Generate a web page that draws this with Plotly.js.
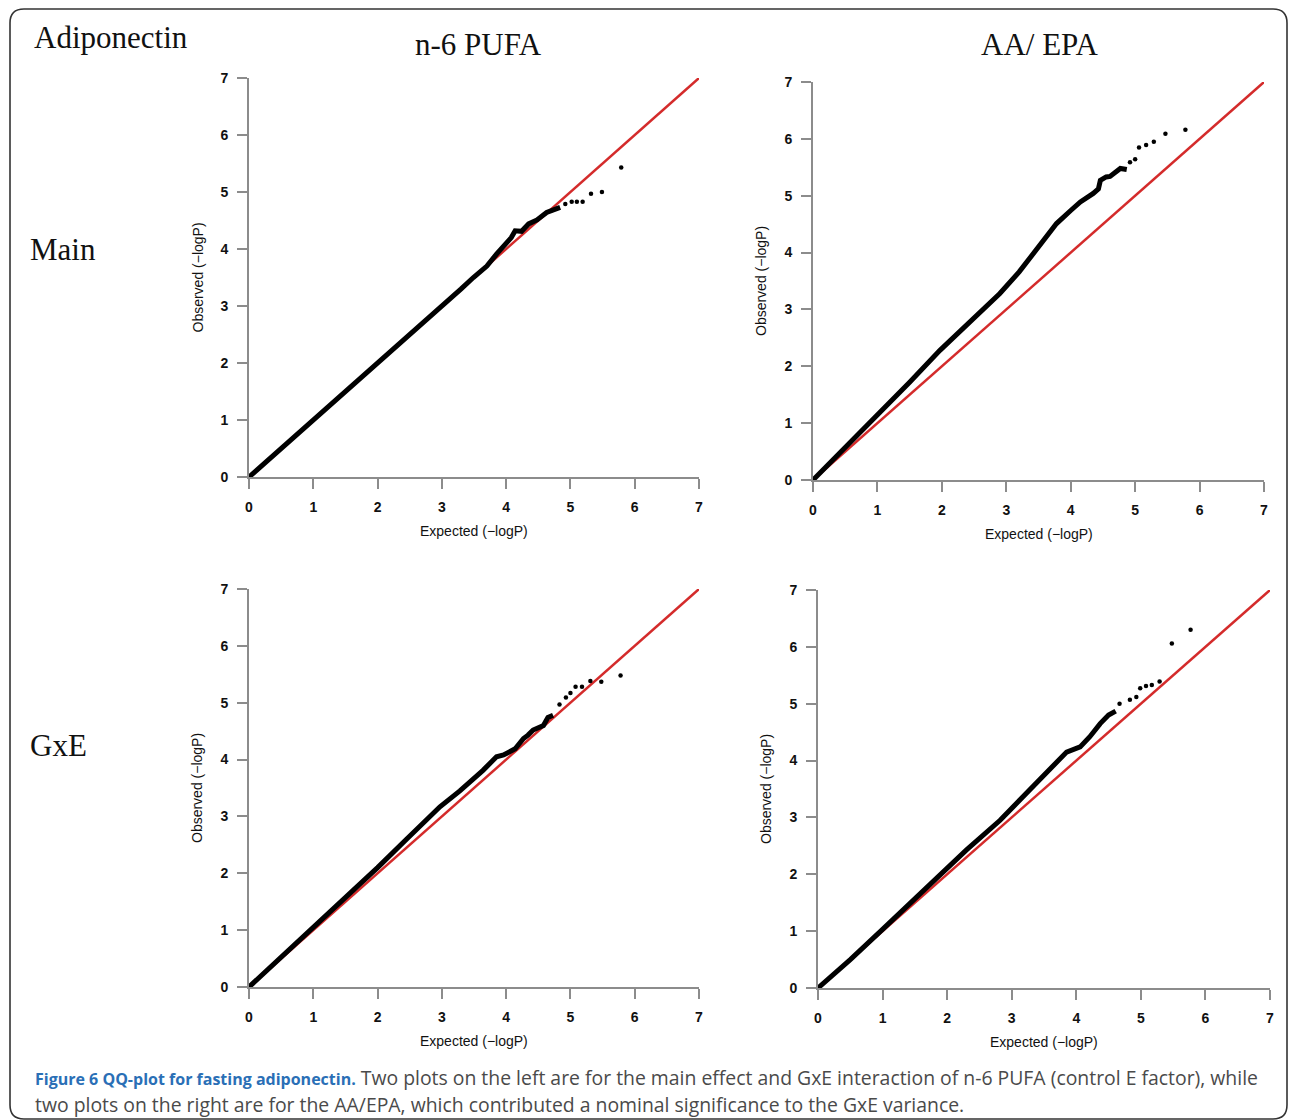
<!DOCTYPE html>
<html>
<head>
<meta charset="utf-8">
<script src="https://cdn.plot.ly/plotly-3.0.1.min.js"></script>
<style>html,body{margin:0;padding:0;background:#fff;}#chart{width:1290px;height:1120px;}</style>
</head>
<body>
<div id="chart"></div>
<script>
// ---------- data ----------
const axisTicks = [0, 1, 2, 3, 4, 5, 6, 7];
const refLine = [0, 7];

// Main effect, n-6 PUFA
const mainPufaExp = [0, 0.5, 1, 1.5, 2, 2.5, 2.8, 3.1, 3.3, 3.49, 3.70, 3.85, 4.08, 4.14, 4.24, 4.35, 4.48, 4.63, 4.79, 4.84];
const mainPufaObs = [0, 0.5, 1, 1.5, 2, 2.5, 2.78, 3.08, 3.3, 3.50, 3.70, 3.91, 4.20, 4.32, 4.31, 4.44, 4.51, 4.64, 4.70, 4.73];
const mainPufaTailExp = [4.92, 5.02, 5.10, 5.19, 5.32, 5.49, 5.79];
const mainPufaTailObs = [4.79, 4.83, 4.83, 4.83, 4.97, 5.00, 5.43];

// Main effect, AA/EPA
const mainAaExp = [0, 0.5, 1, 1.5, 1.97, 2.5, 2.9, 3.2, 3.42, 3.6, 3.78, 4.0, 4.15, 4.35, 4.43, 4.46, 4.55, 4.61, 4.70, 4.77, 4.87];
const mainAaObs = [0, 0.57, 1.14, 1.72, 2.28, 2.86, 3.28, 3.66, 3.98, 4.25, 4.51, 4.74, 4.89, 5.04, 5.12, 5.27, 5.33, 5.34, 5.42, 5.48, 5.46];
const mainAaTailExp = [4.92, 5.00, 5.06, 5.17, 5.29, 5.47, 5.78];
const mainAaTailObs = [5.59, 5.64, 5.85, 5.89, 5.95, 6.09, 6.16];

// GxE, n-6 PUFA
const gxePufaExp = [0, 0.5, 1, 1.5, 2, 2.45, 2.66, 2.97, 3.28, 3.44, 3.64, 3.85, 3.96, 4.14, 4.27, 4.34, 4.42, 4.58, 4.65, 4.73];
const gxePufaObs = [0, 0.52, 1.05, 1.58, 2.1, 2.6, 2.84, 3.17, 3.45, 3.61, 3.81, 4.05, 4.08, 4.19, 4.37, 4.43, 4.52, 4.60, 4.74, 4.78];
const gxePufaTailExp = [4.83, 4.93, 5.00, 5.08, 5.18, 5.31, 5.48, 5.78];
const gxePufaTailObs = [4.97, 5.09, 5.17, 5.28, 5.28, 5.38, 5.37, 5.48];

// GxE, AA/EPA
const gxeAaExp = [0, 0.5, 1, 1.5, 2, 2.30, 2.82, 3.33, 3.59, 3.85, 4.06, 4.21, 4.37, 4.50, 4.61];
const gxeAaObs = [0, 0.5, 1.03, 1.56, 2.1, 2.43, 2.95, 3.54, 3.83, 4.15, 4.24, 4.42, 4.65, 4.80, 4.87];
const gxeAaTailExp = [4.67, 4.83, 4.93, 4.99, 5.08, 5.17, 5.29, 5.48, 5.77];
const gxeAaTailObs = [5.00, 5.07, 5.12, 5.27, 5.31, 5.33, 5.39, 6.06, 6.30];

const colTitles = ['n-6 PUFA', 'AA/ EPA'];
const rowTitles = ['Main', 'GxE'];
const figTitle = 'Adiponectin';
const xTitle = 'Expected (\u2212logP)';
const yTitle = 'Observed (\u2212logP)';
const captionBold = 'Figure 6 QQ-plot for fasting adiponectin.';
const captionLine1 = ' Two plots on the left are for the main effect and GxE interaction of n-6 PUFA (control E factor), while';
const captionLine2 = 'two plots on the right are for the AA/EPA, which contributed a nominal significance to the GxE variance.';

// ---------- layout helpers ----------
const W = 1290, H = 1120;
const px = v => v / W;
const py = v => 1 - v / H;

const panels = [
  {exp: mainPufaExp, obs: mainPufaObs, tx: mainPufaTailExp, ty: mainPufaTailObs, box: [249, 699, 78, 477]},
  {exp: mainAaExp, obs: mainAaObs, tx: mainAaTailExp, ty: mainAaTailObs, box: [813, 1264, 82, 480]},
  {exp: gxePufaExp, obs: gxePufaObs, tx: gxePufaTailExp, ty: gxePufaTailObs, box: [249, 699, 589, 987]},
  {exp: gxeAaExp, obs: gxeAaObs, tx: gxeAaTailExp, ty: gxeAaTailObs, box: [818, 1270, 590, 988]}
];

const traces = [];
const layout = {
  width: W, height: H,
  margin: {l: 0, r: 0, t: 0, b: 0},
  paper_bgcolor: '#fff', plot_bgcolor: 'rgba(0,0,0,0)',
  showlegend: false,
  annotations: [],
  shapes: []
};

const tickFont = {family: 'Liberation Sans, Arial, sans-serif', size: 14, color: '#111', weight: 'bold'};
const axTitleFont = {family: 'Liberation Sans, Arial, sans-serif', size: 14, color: '#111'};

panels.forEach((p, i) => {
  const n = i + 1;
  const xa = n === 1 ? 'x' : 'x' + n;
  const ya = n === 1 ? 'y' : 'y' + n;
  const xk = n === 1 ? 'xaxis' : 'xaxis' + n;
  const yk = n === 1 ? 'yaxis' : 'yaxis' + n;
  const [x0, x1, yTop, yBot] = p.box;
  const common = {
    range: [0, 7], tickmode: 'array', tickvals: axisTicks, ticktext: axisTicks.map(String),
    showline: true, linecolor: '#8c8c8c', linewidth: 2,
    ticks: 'outside', ticklen: 10, tickwidth: 2, tickcolor: '#8c8c8c',
    showgrid: false, zeroline: false, tickfont: tickFont, fixedrange: true,
    ticklabelstandoff: 6
  };
  layout[xk] = Object.assign({}, common, {domain: [px(x0), px(x1)], anchor: ya});
  layout[yk] = Object.assign({}, common, {domain: [py(yBot), py(yTop)], anchor: xa});

  traces.push({x: refLine, y: refLine, xaxis: xa, yaxis: ya, mode: 'lines',
    line: {color: '#d42b2b', width: 2.5}, hoverinfo: 'skip'});
  traces.push({x: p.exp, y: p.obs, xaxis: xa, yaxis: ya, mode: 'lines',
    line: {color: '#000', width: 5}, hoverinfo: 'skip'});
  traces.push({x: p.tx, y: p.ty, xaxis: xa, yaxis: ya, mode: 'markers',
    marker: {color: '#000', size: 4.5}, cliponaxis: false, hoverinfo: 'skip'});

  // axis titles
  layout.annotations.push({xref: 'paper', yref: 'paper', x: px((x0 + x1) / 2), y: py(yBot + 54),
    text: xTitle, showarrow: false, font: axTitleFont, xanchor: 'center', yanchor: 'middle'});
  layout.annotations.push({xref: 'paper', yref: 'paper', x: px(x0 - 52), y: py((yTop + yBot) / 2),
    text: yTitle, showarrow: false, font: axTitleFont, textangle: -90, xanchor: 'center', yanchor: 'middle'});
});

const serif = {family: 'Liberation Serif, Times New Roman, serif', size: 31, color: '#111'};
layout.annotations.push({xref: 'paper', yref: 'paper', x: px(32), y: py(38), text: figTitle,
  showarrow: false, font: serif, xanchor: 'left', yanchor: 'middle'});
layout.annotations.push({xref: 'paper', yref: 'paper', x: px(478), y: py(45), text: colTitles[0],
  showarrow: false, font: serif, xanchor: 'center', yanchor: 'middle'});
layout.annotations.push({xref: 'paper', yref: 'paper', x: px(1039), y: py(45), text: colTitles[1],
  showarrow: false, font: serif, xanchor: 'center', yanchor: 'middle'});
layout.annotations.push({xref: 'paper', yref: 'paper', x: px(28), y: py(250), text: rowTitles[0],
  showarrow: false, font: serif, xanchor: 'left', yanchor: 'middle'});
layout.annotations.push({xref: 'paper', yref: 'paper', x: px(28), y: py(745), text: rowTitles[1],
  showarrow: false, font: serif, xanchor: 'left', yanchor: 'middle'});

const capFont = {family: 'Open Sans, Noto Sans, sans-serif', size: 19.4, color: '#4a4a4a'};
layout.annotations.push({xref: 'paper', yref: 'paper', x: px(33), y: py(1077),
  text: '<span style="color:#2a6fb6;font-size:16px"><b>' + captionBold + '</b></span>' + captionLine1,
  showarrow: false, font: capFont, xanchor: 'left', yanchor: 'middle', align: 'left'});
layout.annotations.push({xref: 'paper', yref: 'paper', x: px(33), y: py(1104),
  text: captionLine2, showarrow: false, font: capFont, xanchor: 'left', yanchor: 'middle', align: 'left'});

// rounded outer frame
(function () {
  const L = 10, T = 9, R = 1287, B = 1119, r = 14;
  const P = (x, y) => px(x) + ',' + py(y);
  const path = 'M' + P(L + r, T) + ' L' + P(R - r, T) + ' Q' + P(R, T) + ' ' + P(R, T + r) +
    ' L' + P(R, B - r) + ' Q' + P(R, B) + ' ' + P(R - r, B) +
    ' L' + P(L + r, B) + ' Q' + P(L, B) + ' ' + P(L, B - r) +
    ' L' + P(L, T + r) + ' Q' + P(L, T) + ' ' + P(L + r, T) + ' Z';
  layout.shapes.push({type: 'path', xref: 'paper', yref: 'paper', path: path,
    line: {color: '#333', width: 1.6}, fillcolor: 'rgba(0,0,0,0)', layer: 'below'});
})();

Plotly.newPlot('chart', traces, layout, {displayModeBar: false, staticPlot: true});
</script>
</body>
</html>
